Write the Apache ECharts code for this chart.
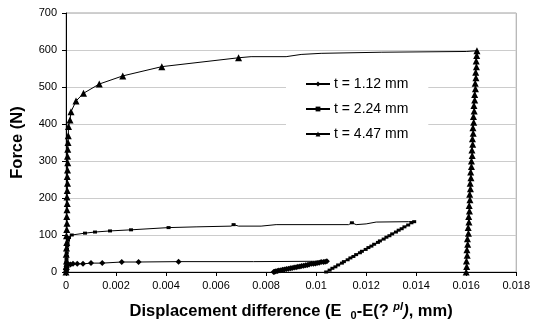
<!DOCTYPE html>
<html>
<head>
<meta charset="utf-8">
<script src="https://cdn.jsdelivr.net/npm/echarts@6/dist/echarts.min.js"></script>
<style>html,body{margin:0;padding:0;background:#fff}#c{width:533px;height:326px}</style>
</head>
<body>
<div id="c"></div>
<script>
// Tick labels
var xTicks = [0, 0.002, 0.004, 0.006, 0.008, 0.01, 0.012, 0.014, 0.016, 0.018];
var yTicks = [0, 100, 200, 300, 400, 500, 600, 700];
var seriesNames = ['t = 1.12 mm', 't = 2.24 mm', 't = 4.47 mm'];

// t = 1.12 mm : [displacement difference (mm), force (N), marker shown 1/0]
var s112 = [
  [0,0,1],[0.00001,3,1],[0.00002,6,1],[0.00001,9,1],[0.00003,12,1],[0.00002,15,1],[0.00004,18,1],
  [0.00006,20,1],[0.0001,21,1],[0.00018,20,1],[0.00028,22,1],[0.00045,22,1],[0.00068,22,1],
  [0.001,24,1],[0.00145,24,1],[0.00223,27,1],[0.0029,27,1],[0.0045,28,1],
  [0.0075,28,0],[0.0100,29,0],
  [0.01043,29,1],[0.01036,28,1],[0.01029,27,1],[0.01020,27,1],[0.01012,25,1],[0.01004,24,1],
  [0.00997,23,1],[0.00989,22,1],[0.00981,22,1],[0.00972,20,1],[0.00965,19,1],[0.00958,18,1],
  [0.00950,17,1],[0.00942,16,1],[0.00935,15,1],[0.00927,14,1],[0.00920,13,1],[0.00912,12,1],
  [0.00904,11,1],[0.00897,10,1],[0.00889,9,1],[0.00881,8,1],[0.00873,7,1],[0.00866,6,1],
  [0.00859,5,1],[0.00851,4,1],[0.00845,3,1],[0.00839,2,1],[0.00834,1,1],[0.00830,0,1]
];

// t = 2.24 mm
var s224 = [
  [0,0,1],[0.00001,8,1],[0.00002,16,1],[0.00001,25,1],[0.00002,34,1],[0.00003,43,1],[0.00003,52,1],
  [0.00004,61,1],[0.00005,70,1],[0.00006,78,1],[0.00008,86,1],[0.00012,93,1],[0.00023,100,1],
  [0.00076,105,1],[0.00116,108,1],[0.00176,111,1],[0.0026,114,1],[0.0041,120,1],
  [0.0052,122,0],[0.0066,124,0],[0.0067,128,1],[0.0069,124,0],[0.0078,124,0],[0.0084,128,0],
  [0.0113,128,0],[0.01143,133,1],[0.0116,128,0],[0.0120,130,0],[0.0124,135,0],[0.0137,136,0],
  [0.01392,136,1],[0.01381,133,1],[0.01368,127,1],[0.01353,122,1],[0.01342,117,1],[0.01330,113,1],
  [0.01319,108,1],[0.01304,103,1],[0.01293,98,1],[0.01281,94,1],[0.01270,89,1],[0.01255,84,1],
  [0.01247,80,1],[0.01232,75,1],[0.01221,70,1],[0.01209,66,1],[0.01198,61,1],[0.01183,56,1],
  [0.01175,52,1],[0.01160,47,1],[0.01149,42,1],[0.01137,38,1],[0.01126,33,1],[0.01111,28,1],
  [0.01103,24,1],[0.01088,19,1],[0.01077,14,1],[0.01065,10,1],[0.01054,5,1],[0.01040,0,1]
];

// t = 4.47 mm
var s447 = [
  [0,0,1],[0.00001,15,1],[0.00002,30,1],[0.00001,48,1],[0.00002,65,1],[0.00003,80,1],[0.00002,98,1],
  [0.00003,115,1],[0.00004,132,1],[0.00003,150,1],[0.00004,168,1],[0.00005,185,1],[0.00004,203,1],
  [0.00005,220,1],[0.00006,240,1],[0.00005,258,1],[0.00006,276,1],[0.00007,295,1],[0.00006,313,1],
  [0.00007,332,1],[0.00008,350,1],[0.00009,368,1],[0.0001,393,1],[0.00016,411,1],[0.0002,433,1],
  [0.0004,462,1],[0.0007,483,1],[0.00133,508,1],[0.00227,530,1],[0.00383,555,1],[0.0069,579,1],
  [0.0074,582,0],[0.0088,582,0],[0.0094,588,0],[0.0102,591,0],[0.0126,594,0],[0.0160,596,0],
  [0.01643,598,1],[0.01642,585,1],[0.01640,570,1],[0.01641,555,1],[0.01638,540,1],[0.01639,525,1],
  [0.01636,510,1],[0.01637,495,1],[0.01634,480,1],[0.01634,465,1],[0.01631,450,1],[0.01632,435,1],
  [0.01629,420,1],[0.01630,405,1],[0.01627,390,1],[0.01628,375,1],[0.01625,360,1],[0.01626,345,1],
  [0.01623,330,1],[0.01624,315,1],[0.01621,300,1],[0.01621,285,1],[0.01618,270,1],[0.01619,255,1],
  [0.01616,240,1],[0.01617,225,1],[0.01614,210,1],[0.01615,195,1],[0.01612,180,1],[0.01613,165,1],
  [0.01610,150,1],[0.01611,135,1],[0.01608,120,1],[0.01609,105,1],[0.01605,90,1],[0.01606,75,1],
  [0.01603,60,1],[0.01604,45,1],[0.01601,30,1],[0.01602,15,1],[0.01600,0,1]
];

function toData(arr){
  return arr.map(function(p){
    var d = {value:[p[0], p[1]]};
    if (!p[2]) d.symbol = 'none';
    return d;
  });
}

var FONT = 'Liberation Sans, Arial, sans-serif';
var chart = echarts.init(document.getElementById('c'), null, {renderer:'canvas'});
var symbols = ['diamond', 'rect', 'triangle'];
var sizes = [6, [4,3], 7];
var datas = [s112, s224, s447];

chart.setOption({
  animation: false,
  backgroundColor: '#fff',
  grid: {left: 66, right: 16, top: 13, bottom: 54, show: true, borderColor: '#a0a0a0', borderWidth: 1},
  legend: {
    orient: 'vertical', left: 286, top: 70,
    padding: [6, 20, 8, 19], itemGap: 9, itemWidth: 24, itemHeight: 6,
    backgroundColor: '#fff',
    textStyle: {fontFamily: FONT, fontSize: 14, color: '#000', padding: [0,0,0,-1], lineHeight: 16},
    data: seriesNames
  },
  xAxis: {
    type: 'value', min: 0, max: 0.018, interval: 0.002,
    axisLine: {show: true, onZero: false, lineStyle: {color: '#000', width: 1}},
    axisTick: {show: true, length: 4, lineStyle: {color: '#000'}},
    splitLine: {show: false},
    axisLabel: {fontFamily: FONT, fontSize: 11, color: '#000', margin: 8,
      formatter: function(v){ var r = xTicks.filter(function(t){return Math.abs(t-v)<1e-9;}); return r.length ? String(r[0]) : ''; }},
    name: 'Displacement difference (E  {sub|0}-E(? {sup|pl}{it|)}, mm)',
    nameLocation: 'middle', nameGap: 29,
    nameTextStyle: {fontFamily: FONT, fontSize: 16.5, fontWeight: 'bold', color: '#000', lineHeight: 20,
      rich: {
        sub: {fontFamily: FONT, fontSize: 11, fontWeight: 'bold', color: '#000', verticalAlign: 'bottom', padding: [7,0,0,0]},
        sup: {fontFamily: FONT, fontSize: 11, fontWeight: 'bold', fontStyle: 'italic', color: '#000', verticalAlign: 'top', padding: [0,0,7,0]},
        it: {fontFamily: FONT, fontSize: 16.5, fontWeight: 'bold', fontStyle: 'italic', color: '#000'}
      }}
  },
  yAxis: {
    type: 'value', min: 0, max: 700, interval: 100,
    axisLine: {show: true, lineStyle: {color: '#000', width: 1}},
    axisTick: {show: true, length: 4, lineStyle: {color: '#000'}},
    splitLine: {show: true, lineStyle: {color: '#cccccc', width: 1}},
    axisLabel: {fontFamily: FONT, fontSize: 11, color: '#000', margin: 9,
      formatter: function(v){ return yTicks.indexOf(v) >= 0 ? String(v) : ''; }},
    name: 'Force (N)', nameLocation: 'middle', nameGap: 40, nameRotate: 90,
    nameTextStyle: {fontFamily: FONT, fontSize: 16.5, fontWeight: 'bold', color: '#000'}
  },
  series: seriesNames.map(function(n, i){
    return {
      name: n, type: 'line', data: toData(datas[i]),
      symbol: symbols[i], symbolSize: sizes[i], showAllSymbol: true,
      lineStyle: {color: '#000', width: 1},
      itemStyle: {color: '#000', borderWidth: 0},
      emphasis: {disabled: true}, z: 3
    };
  })
});
</script>
</body>
</html>
